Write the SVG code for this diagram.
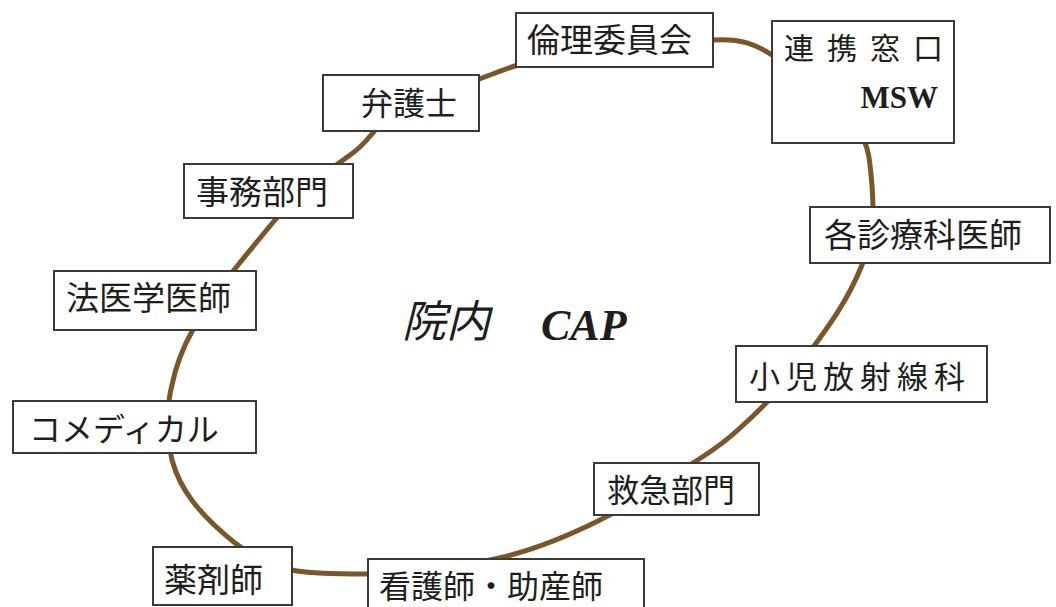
<svg xmlns="http://www.w3.org/2000/svg" width="1056" height="607" viewBox="0 0 1056 607">
<style>
.box{fill:#fff;stroke:#3a3a3a;stroke-width:2}
.t{font-family:"Noto Sans CJK JP","Liberation Sans",sans-serif;fill:#1e1e1e;font-size:33px}
.s{font-family:"Liberation Serif",serif;font-weight:bold;fill:#1e1e1e}
.ring{fill:none;stroke:#7a5628;stroke-width:5}
</style>
<rect width="1056" height="607" fill="#fff"/>
<g id="connectors">
<path class="ring" d="M 713,40 C 740,38 755,44 772,55 C 820,85 866,115 870,165 C 874,200 876,225 862,265 C 848,300 830,325 800,365 C 780,390 760,410 740,428 C 720,447 705,455 690,465 C 660,485 630,505 600,520 C 570,535 530,552 490,560 C 450,570 410,574 368,574 C 330,574 305,573 292,570 C 270,565 250,555 235,543 C 200,515 180,490 172,460 C 165,430 168,400 172,385 C 180,345 200,315 230,275 C 250,250 265,232 275,220 C 300,190 330,170 350,155 C 365,145 370,135 380,125 C 410,105 450,90 490,75 C 520,63 560,52 600,45 C 650,40 690,40 713,40 Z"/>
</g>
<g id="center-label">
<text class="t" x="402" y="337" font-style="italic" style="font-size:44px">院内</text>
<text class="s" x="541" y="340" font-size="44" font-style="italic">CAP</text>
</g>
<g id="n-rinri"><rect class="box" x="516" y="13" width="197" height="54"/><text class="t" x="527" y="52">倫理委員会</text></g>
<g id="n-renkei"><rect class="box" x="772" y="21" width="182" height="122"/><text class="t" x="784" y="59" style="font-size:30px;letter-spacing:13px">連携窓口</text><text class="s" x="938" y="108" font-size="31" text-anchor="end">MSW</text></g>
<g id="n-bengoshi"><rect class="box" x="323" y="75" width="156" height="56"/><text class="t" x="361" y="115" style="font-size:32px">弁護士</text></g>
<g id="n-jimu"><rect class="box" x="184" y="164" width="169" height="54"/><text class="t" x="196" y="204">事務部門</text></g>
<g id="n-hoigaku"><rect class="box" x="54" y="271" width="202" height="59"/><text class="t" x="66" y="310">法医学医師</text></g>
<g id="n-comedical"><rect class="box" x="13" y="401" width="243" height="52"/><text class="t" x="29" y="441" style="font-size:32px">コメディカル</text></g>
<g id="n-yakuzaishi"><rect class="box" x="153" y="547" width="139" height="58"/><text class="t" x="164" y="592">薬剤師</text></g>
<g id="n-kango"><rect class="box" x="368" y="559" width="276" height="60"/><text class="t" x="379" y="598" style="font-size:32px">看護師・助産師</text></g>
<g id="n-kyukyu"><rect class="box" x="594" y="463" width="165" height="52"/><text class="t" x="607" y="502" style="font-size:32px">救急部門</text></g>
<g id="n-shoni"><rect class="box" x="736" y="346" width="251" height="56"/><text class="t" x="749" y="388" style="font-size:31px;letter-spacing:6px">小児放射線科</text></g>
<g id="n-kakushinryo"><rect class="box" x="810" y="207" width="240" height="56"/><text class="t" x="824" y="247">各診療科医師</text></g>
</svg>
